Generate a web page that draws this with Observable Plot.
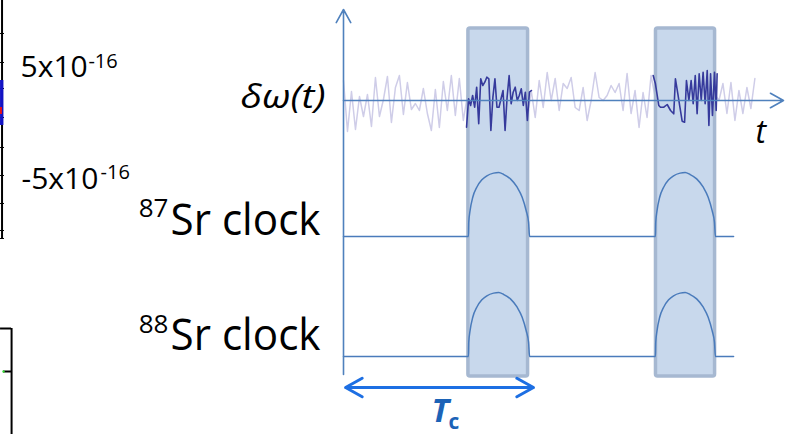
<!DOCTYPE html>
<html><head><meta charset="utf-8">
<script src="https://cdn.jsdelivr.net/npm/d3@7"></script>
<script src="https://cdn.jsdelivr.net/npm/@observablehq/plot@0.6"></script>
<style>html,body{margin:0;padding:0;background:#fff}svg{display:block}</style>
</head><body><div id="chart"></div>
<script>
// Time t in units of the cycle time Tc; signal v in arbitrary units (noise baseline = 0).
const lightNoise = [
  2.0, -3.1, 0.9, -2.9, 0.4, -1.6, 0.6, -2.6, 2.3, -1.6, 0.1, 2.4, -2.2, 1.3, 2.5, -1.4,
  1.8, -0.9, -0.3, -1.0, 1.2, -1.3, -3.0, 1.1, -2.7, 1.9, -1.0, 2.5, -1.5, 2.2, -2.0,
  0.5, -2.0, 1.5, -1.0, 2.0, -2.5, 0.8, 1.6, -1.2, 2.2, -2.8, 0.4, 1.9, -0.7, 1.3, -1.9,
  1.0, -1.7, 2.0, -0.7, 2.8, 0, 2.2, -1.0, 1.7, 1.2, 2.3, -0.7, -1.0, 1.3, -2.0, 0,
  2.8, 0.3, 0, 0.5, 1.5, 0.8, 1.7, -1.0, 2.7, -1.3, 1.0, -2.7, 0.8, -1.7, 2.5,
  0.4, -1.2, 0.9, -2.1, 1.6, -0.5, 2.4, -1.8, 0.7, 1.9, -2.6, 1.1, -0.9, 2.0, -1.4, 0.6,
  0, 1.7, -1.3, 1.8, -2.0, 1.0, -1.3, 1.3, -0.8, 2.2
];
const lightNoiseEnd = 2.2;
const dark1V = [-2.67, 0.17, -0.5, 0.5, -0.67, 1.33, -2.33, 2.17, 1.5, 1.83, 2.33, 2.17, -3.0, 0.33,
  2.17, -0.67, -0.67, 0.17, 1.0, -3.0, 0.33, 2.5, -0.33, 0.83, 1.33, 0, 0.5, 1.17, -0.5, 0.83, -2.0, 0.83, 1.0];
const dark1Span = [0.658, 1.005];
const dark2T = [1.656, 1.668, 1.686, 1.695, 1.713, 1.731, 1.749, 1.766, 1.775, 1.788, 1.799, 1.811, 1.824,
  1.834, 1.847, 1.859, 1.870, 1.881, 1.891, 1.902, 1.913, 1.923, 1.934, 1.945, 1.954, 1.963, 1.973, 1.984, 1.993, 1.998];
const dark2V = [2.5, 1.67, -0.5, -0.67, -0.67, -0.4, -1.0, -1.33, 2.17, 0.67, -0.67, -2.07, -2.17,
  2.0, 0, 2.0, -0.33, 2.5, -1.33, 2.67, 0, 2.83, -0.33, 3.0, -2.5, 2.67, -1.5, 2.83, -1.0, 2.67];

// clock pulse shape (fraction of window width, fraction of pulse height)
const pulseU = [0, 0.005, 0.027, 0.071, 0.137, 0.22, 0.302, 0.412, 0.495, 0.577, 0.687, 0.797, 0.879, 0.945, 0.984, 1];
const pulseH = [0, 0.22, 0.403, 0.613, 0.77, 0.885, 0.948, 0.99, 1, 0.969, 0.901, 0.77, 0.613, 0.403, 0.22, 0];
const windows = [[0.668, 0.995], [1.668, 1.989]];
const clockRows = [{iso: "87", base: -13.6}, {iso: "88", base: -25.6}];
const pulseHeight = 6.4;
const clockEnd = 2.086;
const shaded = [{t1: 0.668, t2: 0.987, top: 7.2, bottom: -27.6}, {t1: 1.671, t2: 1.987, top: 7.2, bottom: -27.6}];

const lightData = lightNoise.map((v, i) => ({t: i * lightNoiseEnd / (lightNoise.length - 1), v}));
const dark1Data = dark1V.map((v, i) => ({t: dark1Span[0] + i * (dark1Span[1] - dark1Span[0]) / (dark1V.length - 1), v}));
const dark2Data = dark2T.map((t, i) => ({t, v: dark2V[i]}));
const clockData = [];
for (const r of clockRows) {
  clockData.push({t: 0, v: r.base, iso: r.iso});
  for (const [a, b] of windows) pulseU.forEach((u, i) => clockData.push({t: a + u * (b - a), v: r.base + pulseH[i] * pulseHeight, iso: r.iso}));
  clockData.push({t: clockEnd, v: r.base, iso: r.iso});
}

const axisBlue = "#4f81bd";
const F = "Open Sans";
const txt = (s, t, v, o) => Plot.text([{s, t, v}], {x: "t", y: "v", text: "s", lineAnchor: "bottom", textAnchor: "start", fontFamily: F, fill: "#000", ...o});

const chart = Plot.plot({
  width: 787, height: 434,
  x: {domain: [0, 1], range: [343, 530], axis: null},
  y: {domain: [0, 10], range: [100, 0], axis: null},
  style: {background: "#fff"},
  marks: [
    // fragment of the neighbouring figure on the left
    Plot.ruleX([-1.826], {y1: 10, y2: -13.8, stroke: "#000", strokeWidth: 2}),
    Plot.ruleY([6.7, 3.8, 1.2, -1.7, -4.7, -7.5, -10.3, -13.0, -13.8], {x1: -1.834, x2: -1.813, stroke: "#000", strokeWidth: 1}),
    Plot.rect([{a: -1.834, b: -1.816, c: 2.0, d: -2.5}], {x1: "a", x2: "b", y1: "c", y2: "d", fill: "#1212c4"}),
    Plot.rect([{a: -1.834, b: -1.824, c: -0.7, d: -1.4}], {x1: "a", x2: "b", y1: "c", y2: "d", fill: "#ee1111"}),
    Plot.ruleY([-22.8], {x1: -1.834, x2: -1.775, stroke: "#000", strokeWidth: 2}),
    Plot.ruleX([-1.775], {y1: -22.8, y2: -33.4, stroke: "#000", strokeWidth: 2}),
    Plot.ruleY([-27.1], {x1: -1.818, x2: -1.775, stroke: "#000", strokeWidth: 2}),
    Plot.dot([{t: -1.818, v: -27.1}], {x: "t", y: "v", r: 1.2, fill: "#33dd33"}),

    Plot.line(lightData, {x: "t", y: "v", stroke: "#cfcde8", strokeWidth: 1.5}),
    Plot.rect(shaded, {x1: "t1", x2: "t2", y1: "top", y2: "bottom", fill: "#c8d8ec", stroke: "#a6b8d1", strokeWidth: 3.5, rx: 2}),
    Plot.line(clockData, {x: "t", y: "v", z: "iso", stroke: "#4a7bbb", strokeWidth: 1.5, curve: "monotone-x"}),
    Plot.line(dark1Data, {x: "t", y: "v", stroke: "#363a9c", strokeWidth: 1.6}),
    Plot.line(dark2Data, {x: "t", y: "v", stroke: "#363a9c", strokeWidth: 1.6}),
    Plot.arrow([{x1: 0, y1: -27.4, x2: 0, y2: 9.1}], {x1: "x1", y1: "y1", x2: "x2", y2: "y2", stroke: axisBlue, strokeWidth: 1.6, headLength: 14, headAngle: 58}),
    Plot.arrow([{x1: 0, y1: 0, x2: 2.353, y2: 0}], {x1: "x1", y1: "y1", x2: "x2", y2: "y2", stroke: axisBlue, strokeWidth: 1.6, headLength: 14, headAngle: 58}),
    Plot.arrow([{x1: 0.5135, y1: -28.7, x2: 0.011, y2: -28.7}, {x1: 0.5135, y1: -28.7, x2: 1.016, y2: -28.7}],
      {x1: "x1", y1: "y1", x2: "x2", y2: "y2", stroke: "#1d6fe3", strokeWidth: 3, headLength: 9.5, headAngle: 58}),

    txt("δω(t)", -0.551, -0.7, {fontSize: 33, fontStyle: "italic"}),
    txt("t", 2.203, -4.2, {fontSize: 32, fontStyle: "italic"}),
    txt("Sr clock", -0.925, -13.4, {fontSize: 44}),
    txt("87", -0.936, -11.6, {fontSize: 26, textAnchor: "end"}),
    txt("Sr clock", -0.925, -24.9, {fontSize: 44}),
    txt("88", -0.936, -23.2, {fontSize: 26, textAnchor: "end"}),
    txt("5x10", -1.727, 2.4, {fontSize: 30}),
    txt("-16", -1.364, 3.3, {fontSize: 20}),
    txt("-5x10", -1.722, -8.8, {fontSize: 30}),
    txt("-16", -1.299, -7.8, {fontSize: 20}),
    txt("T", 0.471, -32.1, {fontSize: 33, fontStyle: "italic", fontWeight: "bold", fill: "#1c63b7"}),
    txt("c", 0.561, -32.8, {fontSize: 21, fontWeight: "bold", fill: "#1c63b7"})
  ]
});
const lengths = {"Sr clock": 150, "δω(t)": 85};
d3.select(chart).selectAll("text").each(function() {
  const L = lengths[this.textContent];
  if (L) { this.setAttribute("textLength", L); this.setAttribute("lengthAdjust", "spacingAndGlyphs"); }
});
document.getElementById("chart").append(chart);
</script>
</body></html>
